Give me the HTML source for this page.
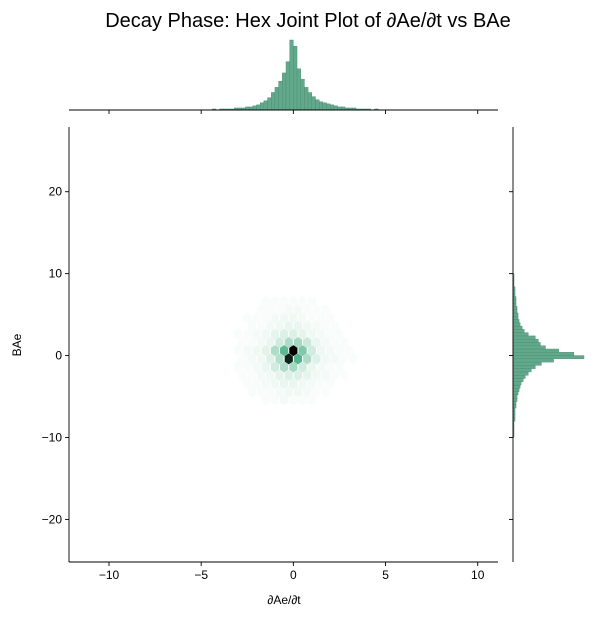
<!DOCTYPE html>
<html><head><meta charset="utf-8"><style>
body{margin:0;background:#fff;}
svg text{font-family:"Liberation Sans","DejaVu Sans",sans-serif;fill:#000;}
</style></head><body>
<svg id="c" width="597" height="616" xmlns="http://www.w3.org/2000/svg">
<text x="308" y="27" font-size="20" text-anchor="middle">Decay Phase: Hex Joint Plot of ∂Ae/∂t vs BAe</text>
<g id="hexes"></g>
<g id="tophist"></g>
<g id="righthist"></g>
<g id="axes"></g>
<text x="284" y="604" font-size="12" text-anchor="middle">∂Ae/∂t</text>
<text x="21" y="345" font-size="12" text-anchor="middle" transform="rotate(-90 21 345)">BAe</text>
</svg>
<script>
const xTicks=[-10,-5,0,5,10];
const yTicks=[-20,-10,0,10,20];
const hexRowY=[6.6,5.6,4.6,3.6,2.6,1.6,0.6,-0.4,-1.4,-2.4,-3.4,-4.4,-5.4];
const hexColX=[-3,-2.5,-2,-1.5,-1,-0.5,0,0.5,1,1.5,2,2.5,3];
const hexCounts=[
[0,0,0,1,1,1,1,1,1,0,0,0,0],
[0,0,1,1,1,2,2,1,1,1,0,0,0],
[0,1,1,1,2,3,3,2,1,1,1,0,0],
[0,1,1,2,3,5,5,3,2,1,1,0,0],
[1,1,2,3,6,9,9,6,3,2,1,1,0],
[1,1,2,5,12,22,24,14,5,2,1,1,0],
[1,2,3,7,22,45,100,35,12,4,2,1,1],
[1,2,3,8,20,90,48,22,8,3,2,1,1],
[1,1,2,5,12,22,24,12,5,2,1,1,0],
[1,1,2,3,6,9,9,6,3,2,1,1,0],
[0,1,1,2,3,5,5,3,2,1,1,0,0],
[0,1,1,1,2,3,3,2,1,1,0,0,0],
[0,0,0,1,1,2,1,1,1,0,0,0,0]];
const topBinStart=-4.8, topBinWidth=0.2;
const topCounts=[0,0,1,0,1,1,1,1,2,2,2,3,3,4,5,7,9,12,17,22,28,36,47,68,62,40,30,22,17,13,10,8,7,6,5,4,3,3,2,2,2,1,1,1,1,0,1,0];
const rightBinStart=-10, rightBinWidth=0.4;
const rightCounts=[1,1,1,1,1,2,2,2,2,3,3,4,4,5,6,7,8,10,12,15,18,22,28,40,70,60,45,32,27,25,22,15,11,9,7,6,5,5,4,4,3,3,3,2,2,2,1,1,1,1];

const NS="http://www.w3.org/2000/svg";
const X0=69,X1=498,Y0=127,Y1=562;
const xmin=-12.17,xmax=11.1,ymin=-25.2,ymax=27.9;
const sx=v=>X0+(v-xmin)/(xmax-xmin)*(X1-X0);
const sy=v=>Y1-(v-ymin)/(ymax-ymin)*(Y1-Y0);
function mk(tag,attrs,parent){const e=document.createElementNS(NS,tag);for(const k in attrs)e.setAttribute(k,attrs[k]);parent.appendChild(e);return e;}
function hexColor(t){const l=99-t*99;return `hsl(155,40%,${Math.max(0,l).toFixed(1)}%)`;}
const hg=document.getElementById('hexes');
const maxC=Math.max(...hexCounts.flat());
const hr=5.5;
hexCounts.forEach((row,i)=>{row.forEach((c,j)=>{
  if(c<=0)return;
  const xv=hexColX[j]+(i%2===1?0.25:0);
  const cx=sx(xv),cy=sy(hexRowY[i]);
  let pts=[];for(let k=0;k<6;k++){const a=Math.PI/3*k+Math.PI/6;pts.push((cx+hr*Math.cos(a)*0.86).toFixed(2)+','+(cy+hr*Math.sin(a)).toFixed(2));}
  const p=mk('polygon',{points:pts.join(' '),fill:hexColor(c/maxC)},hg);
  
  
});});
const tg=document.getElementById('tophist');
const topBase=110, topScale=70/Math.max(...topCounts);
topCounts.forEach((c,i)=>{
  if(c<=0)return;
  const a=sx(topBinStart+i*topBinWidth),b=sx(topBinStart+(i+1)*topBinWidth);
  const h=c*topScale;
  const r=mk('rect',{x:a,y:topBase-h,width:b-a,height:h,fill:'#62a98c',stroke:'#4a8a70','stroke-width':0.4},tg);
  
  
});
const rg=document.getElementById('righthist');
const rBase=513, rScale=71/Math.max(...rightCounts);
rightCounts.forEach((c,i)=>{
  if(c<=0)return;
  const a=sy(rightBinStart+(i+1)*rightBinWidth),b=sy(rightBinStart+i*rightBinWidth);
  const w=c*rScale;
  const r=mk('rect',{x:rBase,y:a,width:w,height:b-a,fill:'#62a98c',stroke:'#4a8a70','stroke-width':0.4},rg);
  
  
});
const ag=document.getElementById('axes');
const st={stroke:'#000','stroke-width':0.9};
mk('line',Object.assign({x1:X0,y1:Y0,x2:X0,y2:Y1},st),ag);
mk('line',Object.assign({x1:X0,y1:Y1,x2:X1,y2:Y1},st),ag);
mk('line',Object.assign({x1:X0,y1:110,x2:X1,y2:110},st),ag);
mk('line',Object.assign({x1:513,y1:Y0,x2:513,y2:Y1},st),ag);
xTicks.forEach(v=>{
  const x=sx(v);
  mk('line',Object.assign({x1:x,y1:Y1,x2:x,y2:Y1+4},st),ag);
  mk('line',Object.assign({x1:x,y1:110,x2:x,y2:114},st),ag);
  const t=mk('text',{x:x,y:Y1+17,'font-size':12,'text-anchor':'middle'},ag);
  t.textContent=(v<0?'−'+Math.abs(v):v);
  
  
});
yTicks.forEach(v=>{
  const y=sy(v);
  mk('line',Object.assign({x1:X0,y1:y,x2:X0-4,y2:y},st),ag);
  mk('line',Object.assign({x1:513,y1:y,x2:509,y2:y},st),ag);
  const t=mk('text',{x:X0-7,y:y+4,'font-size':12,'text-anchor':'end'},ag);
  t.textContent=(v<0?'−'+Math.abs(v):v);
  
  
});
</script>
</body></html>
